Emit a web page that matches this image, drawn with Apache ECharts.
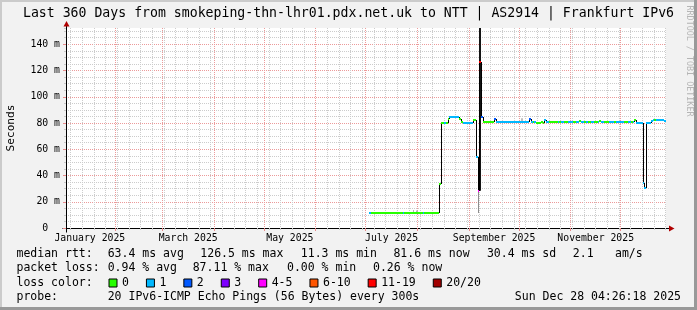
<!DOCTYPE html>
<html><head><meta charset="utf-8">
<script src="https://cdn.jsdelivr.net/npm/echarts@6/dist/echarts.min.js"></script>
<style>html,body{margin:0;padding:0;background:#f2f2f2}#c{width:697px;height:310px}</style>
</head><body><div id="c"></div>
<script>
// ---------------- data ----------------
const TITLE = 'Last 360 Days from smokeping-thn-lhr01.pdx.net.uk to NTT | AS2914 | Frankfurt IPv6';
const Y_AXIS_NAME = 'Seconds';
const Y_TICKS = [0, 20, 40, 60, 80, 100, 120, 140];
const MONTH_LABELS = ['January 2025', 'March 2025', 'May 2025', 'July 2025', 'September 2025', 'November 2025'];
const MONTH_LABEL_INDEX = [0, 2, 4, 6, 8, 10];
const LOSS_LABELS = ['0', '1', '2', '3', '4-5', '6-10', '11-19', '20/20'];
const FIRST_DAY = 182; // day index (from start of the 360-day window) of first sample
// median rtt per day (ms)
const MEDIAN_MS = [
  11.4,11.3,11.4,11.3,11.3,11.4,11.3,11.3,11.4,11.3,
  11.3,11.4,11.3,11.3,11.3,11.4,11.3,11.3,11.4,11.3,
  11.4,11.3,11.3,11.4,11.3,11.3,11.5,11.4,11.3,11.5,
  11.3,11.4,11.3,11.3,11.4,11.3,11.3,11.4,11.3,11.3,
  11.4,11.3,
  33.5,
  80.0,79.8,80.0,80.2,
  82.8,
  84.8,84.9,84.8,84.7,84.8,84.8,
  82.8,
  81.0,
  80.3,80.2,80.3,80.3,80.2,80.3,
  82.3,82.2,
  53.9,
  28.4,
  126.5,
  84.4,
  81.0,80.9,81.0,81.1,81.0,80.9,81.0,
  82.8,
  81.0,81.1,81.0,80.9,81.0,81.0,81.1,81.0,80.9,81.0,81.0,81.1,81.0,81.0,80.9,81.0,81.1,81.0,81.0,80.9,
  82.8,
  81.0,81.1,80.9,
  80.3,80.2,80.3,80.4,80.3,
  82.3,
  80.8,80.7,80.8,80.9,80.8,80.7,80.8,80.8,80.9,80.8,
  80.7,80.8,80.8,80.9,80.8,80.7,80.8,80.8,80.9,80.8,
  81.8,80.8,80.9,80.8,80.8,80.7,
  81.0,80.9,81.0,81.0,80.9,81.0,81.8,81.0,80.9,81.0,
  81.0,81.1,80.9,81.0,81.0,80.9,81.0,81.0,81.1,81.0,
  80.9,81.0,81.0,80.9,81.0,81.0,80.9,
  82.3,
  80.3,80.2,80.3,80.3,
  34.0,
  30.4,
  79.8,79.9,79.8,
  81.2,
  82.3,82.2,82.3,82.4,82.3,82.2,82.3,81.6
];
// loss class per day (index into LOSS_LABELS)
const LOSS_CLASS = [
  1,0,0,0,0,0,0,0,0,0,
  0,0,0,0,0,0,0,0,0,0,
  1,0,0,0,0,0,0,0,0,0,
  0,0,1,0,0,0,0,0,0,0,
  0,0,
  0,
  0,0,1,0,
  0,
  1,1,1,1,1,1,
  0,
  0,
  1,1,1,1,1,1,
  0,0,
  1,
  4,
  6,
  2,
  0,0,0,0,0,0,0,
  2,
  1,1,1,1,1,1,1,1,1,1,1,1,1,1,1,1,1,1,1,1,
  2,
  1,0,1,
  0,0,0,0,0,
  1,
  1,1,0,0,0,0,0,1,0,1,
  1,0,0,1,1,1,0,0,1,1,
  0,1,1,0,1,0,
  0,1,1,0,0,1,0,1,1,0,
  0,0,1,1,1,0,1,1,1,1,
  1,0,0,1,1,0,1,
  0,
  1,1,1,1,
  1,
  1,
  1,1,1,
  1,
  1,0,1,1,1,1,1,1
];
// smoke: [day, lowest ping ms, highest ping ms, pings in spread]
const SMOKE = [
  [208, 11.3, 13.8, 4],
  [210, 11.3, 13.3, 4],
  [247, 11.4, 28.4, 8],
  [248, 28.4, 158, 20],
  [273, 81.0, 83.6, 3]
];
const RTT_STATS = ['63.4 ms avg', '126.5 ms max', '11.3 ms min', '81.6 ms now', '30.4 ms sd', '2.1', 'am/s'];
const LOSS_STATS = ['0.94 % avg', '87.11 % max', '0.00 % min', '0.26 % now'];
const ROW_LABELS = ['median rtt:', 'packet loss:', 'loss color:', 'probe:'];
const PROBE_TEXT = '20 IPv6-ICMP Echo Pings (56 Bytes) every 300s';
const TIMESTAMP_TEXT = 'Sun Dec 28 04:26:18 2025';
const WATERMARK = 'RRDTOOL / TOBI OETIKER';

// ---------------- styles / layout ----------------
const LOSS_COLORS = ['#26ff00', '#00b8ff', '#0059ff', '#7e00ff', '#ff00ff', '#ff5500', '#ff0000', '#a10000'];
const MONO = '"DejaVu Sans Mono", monospace';
const RTT_X = [107.7, 200.3, 300.8, 393.4, 486.9, 572.8, 615];
const LOSS_X = [107.7, 192.7, 287, 373];
const ROW_Y = [254, 268.5, 283, 297.5];
const Y_MAX = 152.4;

const DAY_MS = 86400000;
const END_TS = Date.UTC(2025, 11, 28, 4, 26, 18);
const START_TS = END_TS - 360 * DAY_MS;
const dayTs = d => START_TS + d * DAY_MS;

const monthStarts = [];
for (let m = 1; m <= 11; m++) monthStarts.push(Date.UTC(2025, m, 1));
const monthMids = MONTH_LABEL_INDEX.map(m => (Date.UTC(2025, m, 1) + Date.UTC(2025, m + 1, 1)) / 2);
const weekStarts = [];
for (let t = Date.UTC(2025, 0, 5); t < END_TS; t += 7 * DAY_MS) weekStarts.push(t);

const segs = LOSS_LABELS.map(() => []);
const connectors = [];
MEDIAN_MS.forEach((v, i) => {
  const d = FIRST_DAY + i;
  segs[LOSS_CLASS[i]].push([dayTs(d), dayTs(d + 1), v]);
  if (i > 0) connectors.push([dayTs(d), MEDIAN_MS[i - 1], v]);
});

const chart = echarts.init(document.getElementById('c'), null, {renderer: 'canvas'});

const segmentSeries = LOSS_LABELS.map((name, k) => ({
  type: 'custom', name, xAxisIndex: 1, yAxisIndex: 1, clip: true, silent: true,
  itemStyle: {color: LOSS_COLORS[k]},
  encode: {x: [0, 1], y: 2},
  data: segs[k],
  z: 4,
  renderItem(params, api) {
    const a = api.coord([api.value(0), api.value(2)]);
    const b = api.coord([api.value(1), api.value(2)]);
    const y = Math.round(a[1]);
    return {type: 'line', shape: {x1: Math.round(a[0]), y1: y, x2: Math.round(b[0]), y2: y},
      style: {stroke: api.visual('color'), lineWidth: 2}};
  }
}));

const option = {
  backgroundColor: '#f2f2f2',
  animation: false,
  title: {text: TITLE, left: 'center', top: 7, padding: 0,
    textStyle: {fontFamily: MONO, fontSize: 13.2, fontWeight: 'normal', color: '#000'}},
  grid: {left: 66, right: 31, top: 28, bottom: 82, show: true, backgroundColor: '#fff', borderWidth: 0,
    containLabel: false, outerBoundsMode: 'none'},
  legend: {data: LOSS_LABELS, left: 108.5, top: 277, padding: 0, itemGap: 17, itemWidth: 8, itemHeight: 8,
    icon: 'rect', selectedMode: false,
    itemStyle: {borderColor: '#000', borderWidth: 1},
    textStyle: {fontFamily: MONO, fontSize: 11.5, color: '#000'}},
  xAxis: [
    {type: 'value', min: START_TS, max: END_TS, position: 'bottom',
      axisLine: {show: false}, axisLabel: {show: false},
      axisTick: {show: true, customValues: weekStarts, length: 2, lineStyle: {color: '#c8c8c8'}},
      splitLine: {show: true, lineStyle: {color: '#cccccc', width: 1, type: [1, 1]}}},
    {type: 'value', min: START_TS, max: END_TS, position: 'bottom',
      axisLine: {show: true, onZero: false, lineStyle: {color: '#000', width: 1}},
      axisTick: {show: true, customValues: monthStarts, length: 3, lineStyle: {color: '#e88a8a'}},
      axisLabel: {customValues: monthMids, margin: 5, fontFamily: MONO, fontSize: 9.8, color: '#000',
        formatter: v => { const i = monthMids.indexOf(v); return i >= 0 ? MONTH_LABELS[i] : ''; }},
      splitLine: {show: true, lineStyle: {color: '#ec9a9a', width: 1, type: [1, 1]}}}
  ],
  yAxis: [
    {type: 'value', min: 0, max: Y_MAX, interval: 5, position: 'left',
      axisLine: {show: false}, axisLabel: {show: false},
      axisTick: {show: true, length: 2, lineStyle: {color: '#c8c8c8'}},
      splitLine: {show: true, showMinLine: false, showMaxLine: false,
        lineStyle: {color: '#cccccc', width: 1, type: [1, 1]}}},
    {type: 'value', min: 0, max: Y_MAX, interval: 20, position: 'left',
      name: Y_AXIS_NAME, nameLocation: 'middle', nameGap: 49, nameRotate: 90,
      nameTextStyle: {fontFamily: MONO, fontSize: 11.1, color: '#000'},
      axisLine: {show: true, onZero: false, lineStyle: {color: '#000', width: 1}},
      axisTick: {show: true, length: 3, lineStyle: {color: '#e88a8a'}},
      axisLabel: {margin: 6, showMaxLabel: false, fontFamily: MONO, fontSize: 9.8, color: '#000',
        formatter: v => Y_TICKS.indexOf(v) < 0 ? '' : (v === 0 ? '0  ' : v + ' m')},
      splitLine: {show: true, showMinLine: false, showMaxLine: false,
        lineStyle: {color: '#ec9a9a', width: 1, type: [1, 1]}}}
  ],
  series: [
    {type: 'custom', name: 'smoke', xAxisIndex: 1, yAxisIndex: 1, clip: true, silent: true, z: 2,
      data: SMOKE.map(s => [dayTs(s[0]), dayTs(s[0] + 1), s[1], s[2], s[3]]),
      encode: {x: [0, 1], y: [2, 3]},
      renderItem(params, api) {
        const a = api.coord([api.value(0), api.value(3)]);
        const b = api.coord([api.value(1), api.value(2)]);
        const g = Math.max(0, Math.round(220 - api.value(4) * 10));
        return {type: 'rect', shape: {x: Math.round(a[0]), y: a[1], width: Math.max(1, Math.round(b[0]) - Math.round(a[0])), height: b[1] - a[1]},
          style: {fill: 'rgb(' + g + ',' + g + ',' + g + ')'}};
      }},
    {type: 'custom', name: 'median-steps', xAxisIndex: 1, yAxisIndex: 1, clip: true, silent: true, z: 3,
      data: connectors, encode: {x: 0, y: [1, 2]},
      renderItem(params, api) {
        const a = api.coord([api.value(0), api.value(1)]);
        const b = api.coord([api.value(0), api.value(2)]);
        const x = Math.round(a[0]) + 0.5;
        return {type: 'line', shape: {x1: x, y1: Math.round(a[1]), x2: x, y2: Math.round(b[1])},
          style: {stroke: '#000', lineWidth: 1}};
      }}
  ].concat(segmentSeries)
};
chart.setOption(option);

// ----- decorations: frame, arrows, stats text -----
const o = chart.convertToPixel({xAxisIndex: 1, yAxisIndex: 1}, [START_TS, 0]);
const tr = chart.convertToPixel({xAxisIndex: 1, yAxisIndex: 1}, [END_TS, Y_MAX]);
const ox = Math.round(o[0]) + 0.5, oy = Math.round(o[1]) + 0.5;
const txt = (x, y, text, extra) => Object.assign({type: 'text', x, y, silent: true,
  style: Object.assign({text, font: '11.5px ' + MONO, fill: '#000', verticalAlign: 'middle', align: 'left'}, extra || {})});
const g = [
  {type: 'rect', shape: {x: 0, y: 0, width: 697, height: 2}, style: {fill: '#cbcbcb'}, silent: true},
  {type: 'rect', shape: {x: 0, y: 0, width: 2, height: 310}, style: {fill: '#cbcbcb'}, silent: true},
  {type: 'rect', shape: {x: 694, y: 0, width: 3, height: 310}, style: {fill: '#999999'}, silent: true},
  {type: 'rect', shape: {x: 0, y: 307, width: 697, height: 3}, style: {fill: '#999999'}, silent: true},
  {type: 'line', shape: {x1: ox - 4, y1: oy, x2: tr[0] + 4, y2: oy}, style: {stroke: '#000', lineWidth: 1}, silent: true},
  {type: 'line', shape: {x1: ox, y1: oy + 4, x2: ox, y2: tr[1] - 2}, style: {stroke: '#000', lineWidth: 1}, silent: true},
  {type: 'polygon', shape: {points: [[ox - 3, tr[1] - 1.5], [ox + 3, tr[1] - 1.5], [ox, tr[1] - 7]]}, style: {fill: '#b00000'}, silent: true},
  {type: 'polygon', shape: {points: [[tr[0] + 3, oy - 3], [tr[0] + 3, oy + 3], [tr[0] + 8.5, oy]]}, style: {fill: '#b00000'}, silent: true},
  txt(689, 61, WATERMARK, {font: '8.4px ' + MONO, fill: '#b5b5b5', align: 'center'})
];
g[g.length - 1].rotation = -Math.PI / 2;
ROW_LABELS.forEach((t, i) => g.push(txt(16.5, ROW_Y[i], t)));
RTT_STATS.forEach((t, i) => g.push(txt(RTT_X[i], ROW_Y[0], t)));
LOSS_STATS.forEach((t, i) => g.push(txt(LOSS_X[i], ROW_Y[1], t)));
g.push(txt(107.7, ROW_Y[3], PROBE_TEXT));
g.push(txt(681, ROW_Y[3], TIMESTAMP_TEXT, {align: 'right'}));
chart.setOption({graphic: g});
</script>
</body></html>
